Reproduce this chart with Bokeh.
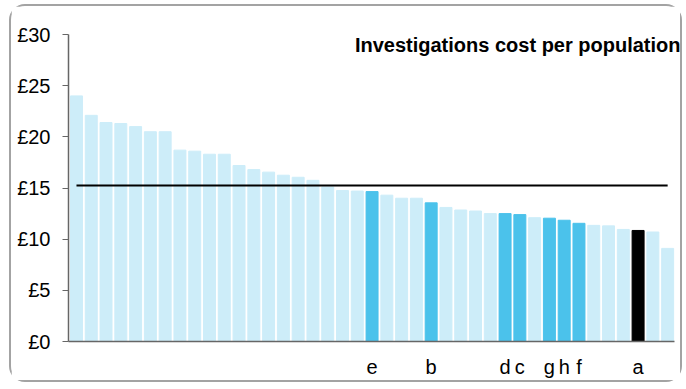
from bokeh.plotting import figure
from bokeh.models import FixedTicker, Label, ColumnDataSource, Range1d
from bokeh.embed import file_html
from bokeh.resources import INLINE

values = [24.0, 22.1, 21.4, 21.3, 21.0, 20.5, 20.5, 18.7, 18.6, 18.3, 18.3,
          17.2, 16.8, 16.55, 16.25, 16.05, 15.75, 15.1, 14.75, 14.7, 14.65,
          14.3, 14.0, 14.0, 13.55, 13.1, 12.85, 12.75, 12.5, 12.5, 12.4,
          12.1, 12.05, 11.85, 11.55, 11.35, 11.3, 10.95, 10.85, 10.7, 9.1]
labels = ["", "", "", "", "", "", "", "", "", "", "",
          "", "", "", "", "", "", "", "", "", "e",
          "", "", "", "b", "", "", "", "", "d", "c",
          "", "g", "h", "f", "", "", "", "a", "", ""]
average = 15.25
title_text = "Investigations cost per population"
y_ticks = [0, 5, 10, 15, 20, 25, 30]

LIGHT = "#CDEDF9"
HIGHLIGHT = "#4BC2EB"
OWN = "#000000"

xs = list(range(len(values)))
colors = []
for lab in labels:
    if lab == "a":
        colors.append(OWN)
    elif lab:
        colors.append(HIGHLIGHT)
    else:
        colors.append(LIGHT)

src = ColumnDataSource(dict(x=xs, top=values, color=colors))

n = len(values)
x_start = -0.54
axis_end = n - 1 + 0.46
p = figure(width=673, height=378, output_backend="svg", toolbar_location=None,
           x_range=Range1d(x_start, n - 1 + 1.14), y_range=Range1d(0, 30),
           min_border_left=57, min_border_right=0, min_border_top=28, min_border_bottom=43)
p.styles = {"border": "2px solid #a3a3a3", "border-radius": "16px",
            "margin-left": "9px", "margin-top": "4px"}

p.vbar(x="x", top="top", width=0.81, color="color", source=src)
p.line([xs[0], xs[-1]], [average, average], line_color="black", line_width=2)

p.xgrid.visible = False
p.ygrid.visible = False
p.outline_line_color = None

tick_idx = [i for i, l in enumerate(labels) if l]
p.xaxis.ticker = FixedTicker(ticks=tick_idx)
p.xaxis.major_label_overrides = {i: labels[i] for i in tick_idx}
p.xaxis.major_tick_line_color = None
p.xaxis.minor_tick_line_color = None
p.xaxis.axis_line_color = "#666666"
p.xaxis.axis_line_width = 1.5
p.xaxis.major_label_standoff = 8
p.xaxis.bounds = (x_start, axis_end)

p.yaxis.ticker = FixedTicker(ticks=y_ticks)
p.yaxis.major_label_overrides = {t: "£%d" % t for t in y_ticks}
p.yaxis.minor_tick_line_color = None
p.yaxis.major_tick_in = 0
p.yaxis.major_tick_out = 6
p.yaxis.major_tick_line_color = "#666666"
p.yaxis.axis_line_color = "#666666"
p.yaxis.axis_line_width = 1.5
p.yaxis.major_label_standoff = 12

for ax in (p.xaxis, p.yaxis):
    ax.major_label_text_font = "Liberation Sans"
    ax.major_label_text_font_size = "20px"
    ax.major_label_text_color = "black"

p.add_layout(Label(x=n - 1 + 0.87, y=28.93, text=title_text, text_align="right",
                   text_baseline="middle", text_font="Liberation Sans", text_font_style="bold",
                   text_font_size="20px", text_color="black"))

open("out.html", "w").write(file_html(p, INLINE))
